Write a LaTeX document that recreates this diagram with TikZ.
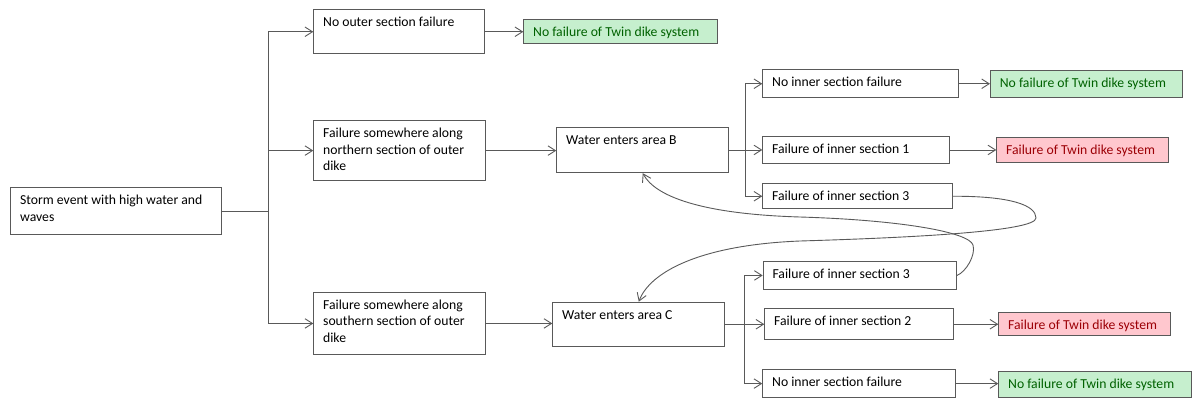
\documentclass[tikz,border=0pt]{standalone}
\usepackage{fontspec}
\setmainfont{Carlito}
\usetikzlibrary{arrows.meta}
\definecolor{lncol}{HTML}{595959}
\definecolor{gfill}{HTML}{C6EFCE}
\definecolor{gtext}{HTML}{006100}
\definecolor{rfill}{HTML}{FFC7CE}
\definecolor{rtext}{HTML}{9C0006}
\newcommand\bxt[3]{\parbox[c][#2pt][t]{#1pt}{\raggedright\leftskip=9.4pt\rule{0pt}{17pt}#3}}
\begin{document}
\begin{tikzpicture}[x=1pt,y=-1pt,
  font=\fontsize{13.7}{16.7}\selectfont,
  box/.style={draw=lncol, line width=0.9pt, inner sep=0pt, anchor=north west},
  good/.style={box, fill=gfill, text=gtext},
  bad/.style={box, fill=rfill, text=rtext},
  conn/.style={draw=lncol, line width=0.9pt},
  arr/.style={conn, -{Straight Barb[length=7.5pt,width=9.5pt]}}]
\useasboundingbox (0,0) rectangle (1192,399);
% boxes
\node[box] (storm) at (10.3,187.3) {\bxt{211}{46.7}{Storm event with high water and\\waves}};
\node[box] (noouter) at (313.3,9.3) {\bxt{171}{44}{No outer section failure}};
\node[box] (north) at (313.3,120) {\bxt{172}{60.3}{Failure somewhere along\\northern section of outer\\dike}};
\node[box] (south) at (313.3,291.7) {\bxt{172}{62.6}{Failure somewhere along\\southern section of outer\\dike}};
\node[good] (g1) at (523.3,18.7) {\bxt{193.7}{24.6}{No failure of Twin dike system}};
\node[box] (wb) at (556.3,127) {\bxt{172}{45.3}{Water enters area B}};
\node[box] (wc) at (552.3,301.7) {\bxt{172}{44.3}{Water enters area C}};
\node[box] (nib) at (762.3,69.3) {\bxt{195.4}{28}{No inner section failure}};
\node[box] (fi1) at (762.3,135.7) {\bxt{187}{27.6}{Failure of inner section 1}};
\node[box] (fi3b) at (762.3,183.3) {\bxt{189.4}{25}{Failure of inner section 3}};
\node[box] (fi3c) at (762.7,260.7) {\bxt{193.3}{28.6}{Failure of inner section 3}};
\node[box] (fi2) at (764.3,308.3) {\bxt{189}{31}{Failure of inner section 2}};
\node[box] (nic) at (762.3,369) {\bxt{193}{28.3}{No inner section failure}};
\node[good] (g2) at (990,70) {\bxt{191.7}{26.7}{No failure of Twin dike system}};
\node[bad] (r1) at (996.3,136.7) {\bxt{172}{25.6}{Failure of Twin dike system}};
\node[bad] (r2) at (998.3,311.7) {\bxt{171.7}{23.3}{Failure of Twin dike system}};
\node[good] (g3) at (998.3,370.7) {\bxt{192.2}{26.6}{No failure of Twin dike system}};
% first level
\draw[conn] (storm.east) -- ++(46,0) coordinate (j1);
\draw[arr] (j1) |- (noouter.west);
\draw[arr] (j1) |- (north.west);
\draw[arr] (j1) |- (south.west);
\draw[arr] (noouter.east) -- (noouter.east -| g1.west);
\draw[arr] (north.east) -- (north.east -| wb.west);
\draw[arr] (south.east) -- (south.east -| wc.west);
% area B
\draw[conn] (wb.east) -- ++(16.7,0) coordinate (j2);
\draw[arr] (j2) |- (nib.west);
\draw[arr] (j2) |- (fi1.west);
\draw[arr] (j2) |- (fi3b.west);
% area C
\draw[conn] (wc.east) -- ++(19,0) coordinate (j3);
\draw[arr] (j3) |- (fi3c.west);
\draw[arr] (j3) |- (fi2.west);
\draw[arr] (j3) |- (nic.west);
% outcomes
\draw[arr] (nib.east) -- (nib.east -| g2.west);
\draw[arr] (fi1.east) -- (fi1.east -| r1.west);
\draw[arr] (fi2.east) -- (fi2.east -| r2.west);
\draw[arr] (nic.east) -- (nic.east -| g3.west);
% cross-over curves
\draw[arr] (fi3b.east) .. controls (1010,196) and (1036,205) .. (1036,218)
  .. controls (1036,232) and (900,238) .. (800,241)
  .. controls (700,245) and (650,272) .. (wc.north);
\draw[arr] (fi3c.east) .. controls (966,272) and (976,255) .. (973,245)
  .. controls (969,232) and (900,220) .. (800,217)
  .. controls (700,214) and (655,196) .. (wb.south);
\end{tikzpicture}
\end{document}
